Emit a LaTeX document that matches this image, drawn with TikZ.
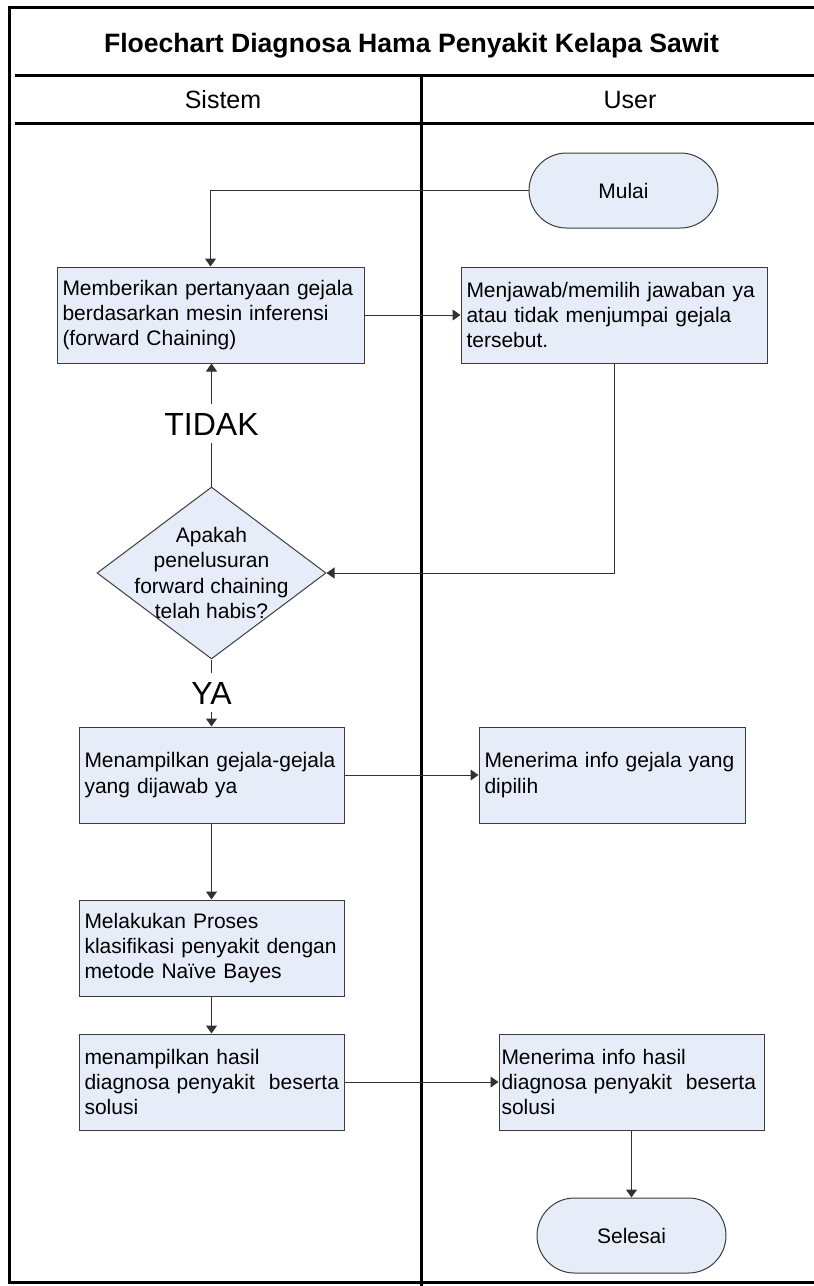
\documentclass[tikz,border=0pt]{standalone}
\usepackage{fontspec}
\setmainfont{Liberation Sans}
\usetikzlibrary{arrows.meta,shapes.geometric}

\definecolor{boxfill}{RGB}{231,237,248}
\definecolor{edgegray}{RGB}{60,60,60}
\definecolor{linegray}{RGB}{50,50,50}
\newcommand\boxfont{\fontsize{21}{25.3}\selectfont\hyphenpenalty=10000\exhyphenpenalty=10000}

\begin{document}
\begin{tikzpicture}[x=1pt,y=-1pt,
  frame/.style={line width=3pt, black},
  proc/.style={draw=edgegray, line width=1pt, fill=boxfill, minimum height=96pt,
    inner xsep=5.5pt, inner ysep=0pt, align=left, font=\boxfont},
  term/.style={draw=edgegray, line width=1pt, fill=boxfill, minimum width=189pt,
    minimum height=75pt, rounded corners=37.5pt, font=\boxfont},
  decision/.style={diamond, draw=edgegray, line width=1pt, fill=boxfill,
    minimum width=229pt, minimum height=172pt, inner sep=0pt},
  flow/.style={draw=linegray, line width=1pt, -{Triangle[length=8pt,width=11pt]}},
  cond/.style={fill=white, font=\fontsize{32}{38}\selectfont, text height=23pt,
    text depth=0pt, inner ysep=8pt, inner xsep=2pt},
]
\useasboundingbox (0,0) rectangle (814,1286);

% swimlane frame
\draw[frame] (8,7.5) -- (814,7.5);
\draw[frame] (9.5,6) -- (9.5,1284);
\draw[frame] (8,1282.5) -- (814,1282.5);
\draw[frame] (15,75.5) -- (814,75.5);
\draw[frame] (15,123) -- (814,123);
\draw[frame] (421,75.5) -- (421,1286);

% headings
\node[font=\fontsize{26.6}{30}\selectfont\bfseries, anchor=base, inner sep=0pt] (title) at (411.5,52) {Floechart Diagnosa Hama Penyakit Kelapa Sawit};
\node[font=\fontsize{25}{30}\selectfont, anchor=base, inner sep=0pt] (lanesys) at (223,108) {Sistem};
\node[font=\fontsize{25}{30}\selectfont, anchor=base, inner sep=0pt] (laneuser) at (630,108) {User};

% steps
\node[term] (start) at (623.5,190.5) {Mulai};
\node[proc, text width=296pt] (ask) at (210.5,315) {Memberikan pertanyaan gejala\\berdasarkan mesin inferensi\\(forward Chaining)};
\node[proc, text width=295pt] (answer) at (614,315) {Menjawab/memilih jawaban ya\\atau tidak menjumpai gejala\\tersebut.};
\node[decision] (check) at (211.5,573) {};
\node[font=\boxfont, align=center] (checktext) at (check.center) {Apakah\\penelusuran\\forward chaining\\telah habis?};
\node[proc, text width=254pt] (show) at (211.5,775) {Menampilkan gejala-gejala\\yang dijawab ya};
\node[proc, text width=255pt] (recv) at (612,775) {Menerima info gejala yang\\dipilih};
\node[proc, text width=254pt] (classify) at (211.5,948) {Melakukan Proses\\klasifikasi penyakit dengan\\metode Naïve Bayes};
\node[proc, text width=254pt] (result) at (211.5,1082) {menampilkan hasil\\\mbox{diagnosa penyakit~ beserta}\\solusi};
\node[proc, text width=260pt, inner xsep=2.5pt] (recvres) at (631.5,1082) {Menerima info hasil\\\mbox{diagnosa penyakit~ beserta}\\solusi};
\node[term] (stop) at (631.5,1235.5) {Selesai};

% connectors
\draw[flow] (start.west) -| (ask.north);
\draw[flow] (ask.east) -- (answer.west);
\draw[flow] (answer.south) |- (check.east);
\draw[flow] (check.north) -- (check.north |- ask.south);
\draw[flow] (check.south) -- (show.north);
\draw[flow] (show.east) -- (recv.west);
\draw[flow] (show.south) -- (classify.north);
\draw[flow] (classify.south) -- (result.north);
\draw[flow] (result.east) -- (recvres.west);
\draw[flow] (recvres.south) -- (stop.north);

% branch labels
\node[cond] (no) at (211.5,423.5) {TIDAK};
\node[cond] (yes) at (211.5,692.5) {YA};
\end{tikzpicture}
\end{document}
